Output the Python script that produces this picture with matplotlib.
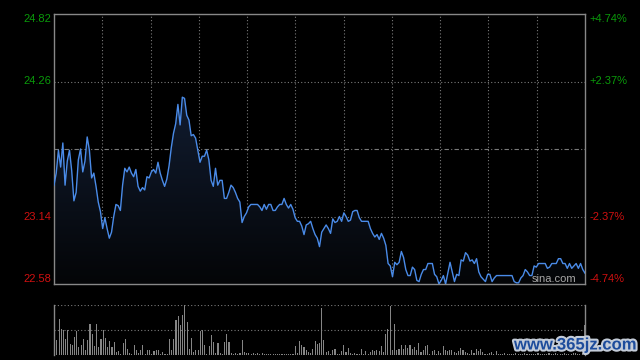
import matplotlib.pyplot as plt
import matplotlib.patheffects as pe
import numpy as np
from matplotlib.colors import LinearSegmentedColormap
from matplotlib.patches import Polygon

# intraday minute prices (241 points, 9:30-11:30 / 13:01-15:00)
prices = [
    23.40, 23.50, 23.69, 23.55, 23.75, 23.40, 23.60, 23.69, 23.52, 23.27,
    23.34, 23.61, 23.70, 23.51, 23.60, 23.80, 23.69, 23.46, 23.50, 23.39,
    23.26, 23.18, 23.04, 23.13, 23.04, 22.96, 23.01, 23.14, 23.24, 23.23,
    23.19, 23.40, 23.54, 23.51, 23.55, 23.50, 23.47, 23.53, 23.39, 23.35,
    23.38, 23.36, 23.47, 23.46, 23.51, 23.53, 23.50, 23.59, 23.50, 23.44,
    23.39, 23.45, 23.56, 23.71, 23.83, 23.91, 24.07, 23.90, 24.13, 24.12,
    23.98, 23.94, 23.81, 23.82, 23.79, 23.69, 23.59, 23.64, 23.64, 23.69,
    23.61, 23.44, 23.39, 23.54, 23.40, 23.44, 23.44, 23.29, 23.29, 23.34,
    23.40, 23.38, 23.34, 23.29, 23.26, 23.09, 23.14, 23.17, 23.22, 23.24,
    23.24, 23.24, 23.24, 23.22, 23.19, 23.24, 23.20, 23.24, 23.24, 23.19,
    23.19, 23.22, 23.24, 23.24, 23.29, 23.24, 23.21, 23.24, 23.20, 23.13,
    23.10, 23.10, 23.06, 22.99, 23.07, 23.08, 23.10, 23.04, 22.99, 22.96,
    22.89, 23.01, 23.04, 23.07, 23.04, 23.00, 23.12, 23.09, 23.10, 23.14,
    23.10, 23.17, 23.14, 23.10, 23.11, 23.18, 23.19, 23.19, 23.13, 23.10,
    23.10, 23.10, 23.10, 23.04, 23.00, 22.97, 22.99, 22.95, 23.00, 22.96,
    22.90, 22.75, 22.73, 22.64, 22.76, 22.74, 22.76, 22.85, 22.80, 22.70,
    22.65, 22.65, 22.72, 22.70, 22.61, 22.60, 22.66, 22.70, 22.70, 22.75,
    22.75, 22.75, 22.66, 22.64, 22.58, 22.61, 22.65, 22.58, 22.67, 22.76,
    22.68, 22.60, 22.66, 22.65, 22.78, 22.77, 22.84, 22.82, 22.77, 22.78,
    22.75, 22.79, 22.68, 22.64, 22.62, 22.60, 22.66, 22.66, 22.60, 22.63,
    22.65, 22.65, 22.65, 22.65, 22.65, 22.65, 22.65, 22.65, 22.60, 22.59,
    22.59, 22.63, 22.65, 22.70, 22.68, 22.65, 22.65, 22.73, 22.72, 22.75,
    22.75, 22.75, 22.75, 22.71, 22.72, 22.75, 22.75, 22.75, 22.79, 22.79,
    22.75, 22.75, 22.71, 22.75, 22.71, 22.73, 22.75, 22.71, 22.75, 22.70,
    22.67,
]

# minute volumes, relative units (max = 100)
volumes = [
    62, 30, 73, 53, 51, 33, 51, 22, 20, 37,
    49, 17, 20, 33, 11, 31, 62, 42, 18, 62,
    17, 33, 51, 35, 17, 29, 17, 27, 7, 9,
    3, 25, 33, 13, 5, 3, 20, 10, 5, 10,
    20, 3, 11, 11, 3, 9, 11, 10, 3, 7,
    3, 2, 33, 11, 33, 70, 78, 60, 80, 100,
    67, 13, 35, 7, 11, 10, 49, 50, 20, 3,
    18, 40, 27, 5, 25, 5, 3, 27, 42, 27,
    5, 2, 5, 3, 5, 30, 7, 5, 5, 3,
    5, 3, 5, 2, 5, 3, 2, 3, 2, 2,
    3, 2, 3, 2, 2, 3, 2, 3, 2, 19,
    5, 29, 20, 17, 10, 7, 5, 13, 29, 22,
    25, 95, 31, 7, 9, 3, 11, 13, 3, 3,
    9, 20, 7, 15, 5, 3, 5, 3, 3, 13,
    2, 9, 2, 7, 10, 9, 11, 9, 18, 7,
    42, 53, 98, 10, 63, 11, 13, 20, 13, 20,
    15, 20, 13, 17, 10, 25, 7, 11, 18, 20,
    3, 9, 11, 3, 9, 5, 18, 10, 9, 11,
    10, 7, 5, 9, 15, 11, 7, 5, 3, 11,
    5, 13, 9, 13, 7, 2, 3, 5, 7, 3,
    9, 3, 2, 3, 4, 2, 3, 2, 3, 5,
    2, 3, 2, 4, 3, 2, 3, 2, 3, 4,
    2, 3, 2, 3, 5, 2, 3, 4, 2, 3,
    2, 4, 3, 2, 3, 4, 5, 3, 2, 4,
    60,
]

prev_close = 23.70
price_low, price_high = 22.58, 24.82
left_labels = ["24.82", "24.26", "23.14", "22.58"]
right_labels = ["+4.74%", "+2.37%", "-2.37%", "-4.74%"]
label_levels = [24.82, 24.26, 23.14, 22.58]

UP = "#0a9a0a"
DOWN = "#d01010"
GRID = "#7a7a7a"
LINE = "#4a8be8"

minutes = np.arange(len(prices))

fig = plt.figure(figsize=(6.4, 3.6), dpi=100, facecolor="black")
ax = fig.add_axes([54 / 640, 1 - 284 / 360, 531 / 640, 270 / 360])
axv = fig.add_axes([54 / 640, 1 - 355 / 360, 531 / 640, 50 / 360])

# price panel
ax.set_facecolor("black")
for lvl in [24.26, 23.14]:
    ax.axhline(lvl, color=GRID, lw=0.8, ls=(0, (1, 2)), zorder=1)
ax.axhline(prev_close, color=GRID, lw=0.8, ls=(0, (4, 2, 1, 2)), zorder=1)
for xv in np.linspace(0, 240, 12)[1:-1]:
    ax.axvline(xv, color=GRID, lw=0.8, ls=(0, (1, 2)), zorder=1)

cmap = LinearSegmentedColormap.from_list("fade", ["#040507", "#111c30"])
grad = np.linspace(0, 1, 256).reshape(-1, 1)
im = ax.imshow(grad, extent=[0, 240, price_low, max(prices)], aspect="auto",
               cmap=cmap, origin="lower", zorder=2)
verts = list(zip(minutes, prices)) + [(minutes[-1], price_low), (0, price_low)]
clip = Polygon(verts, closed=True, transform=ax.transData, facecolor="none", edgecolor="none")
ax.add_patch(clip)
im.set_clip_path(clip)

ax.plot(minutes, prices, color=LINE, lw=1.0, zorder=3)
ax.set_xlim(0, 240)
ax.set_ylim(price_low, price_high)
ax.set_xticks([])
ax.set_yticks([])
for s in ax.spines.values():
    s.set_color("#888888")
    s.set_linewidth(1)

ytf = ax.get_yaxis_transform()
for i, (lvl, ltxt, rtxt) in enumerate(zip(label_levels, left_labels, right_labels)):
    col = UP if lvl > prev_close else DOWN
    va = "center"
    if i == 0:
        va = "top"
    elif i == len(label_levels) - 1:
        va = "bottom"
    ax.text(-0.006, lvl, ltxt, transform=ytf, ha="right", va=va, color=col,
            fontsize=8, family="Liberation Sans")
    ax.text(1.009, lvl, rtxt, transform=ytf, ha="left", va=va, color=col,
            fontsize=8, family="Liberation Sans")

ax.text(0.900, 0.02, "sina.com", transform=ax.transAxes, ha="left", va="center",
        color="#a8a8a8", fontsize=8, family="Liberation Sans", zorder=4)

# volume panel
axv.set_facecolor("black")
for lvl in [0, 50, 100]:
    axv.axhline(lvl, color=GRID, lw=0.8, ls=(0, (1, 2)), zorder=1)
axv.bar(minutes, volumes, width=0.5, color="#858585", zorder=2)
axv.set_xlim(-0.3, 240.3)
axv.set_ylim(0, 100)
axv.set_xticks([])
axv.set_yticks([])
axv.spines["top"].set_visible(False)
axv.spines["bottom"].set_visible(False)
for side in ["left", "right"]:
    axv.spines[side].set_color("#888888")
    axv.spines[side].set_linewidth(1)

fig.text(575 / 640, 1 - 345 / 360, "www.365jz.com", color="#1d4c9c", fontsize=12,
         fontweight="bold", family="Liberation Sans", ha="center", va="center",
         path_effects=[pe.withStroke(linewidth=3, foreground="#c4ccd8")])

fig.savefig("out.png", dpi=100, facecolor="black")
